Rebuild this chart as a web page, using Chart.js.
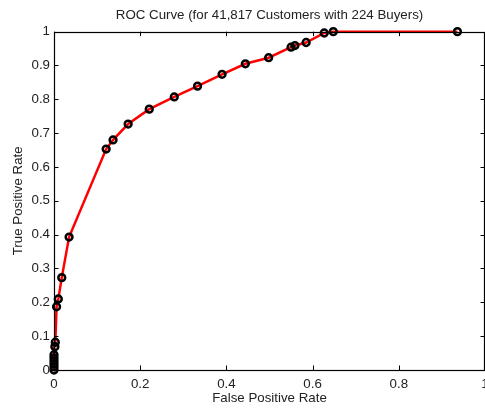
<!DOCTYPE html>
<html>
<head>
<meta charset="utf-8">
<script src="https://cdn.jsdelivr.net/npm/chart.js@4.4.0/dist/chart.umd.min.js"></script>
<style>
  body { margin: 0; background: #fff; }
  #wrap { width: 485px; height: 409px; }
</style>
</head>
<body>
<div id="wrap"><canvas id="chart" width="485" height="409"></canvas></div>
<script>
// ROC points
const fpr = [0, 0, 0, 0, 0, 0, 0.002, 0.003, 0.006, 0.010, 0.018, 0.035, 0.121, 0.137, 0.172,
             0.221, 0.279, 0.333, 0.390, 0.444, 0.498, 0.550, 0.559, 0.585, 0.627, 0.648, 0.936];
const tpr = [0, 0.009, 0.018, 0.027, 0.036, 0.045, 0.069, 0.082, 0.187, 0.210, 0.273, 0.393, 0.653, 0.680, 0.727,
             0.771, 0.807, 0.839, 0.874, 0.905, 0.923, 0.954, 0.959, 0.968, 0.996, 1.0, 1.0];

const xTicks = [0, 0.2, 0.4, 0.6, 0.8, 1];
const yTicks = [0, 0.1, 0.2, 0.3, 0.4, 0.5, 0.6, 0.7, 0.8, 0.9, 1];

const font = "'Liberation Sans', Arial, Helvetica, sans-serif";
const fs = 13.3;

// matlab style box with inward ticks
const boxTicks = {
    id: 'boxTicks',
    afterDraw(c) {
        const ctx = c.ctx;
        const a = c.chartArea;
        const xs = c.scales.x, ys = c.scales.y;
        const len = 4.5;
        ctx.save();
        ctx.strokeStyle = '#000';
        ctx.lineWidth = 1;
        ctx.beginPath();
        xTicks.forEach(v => {
            const px = Math.round(xs.getPixelForValue(v)) + 0.5;
            ctx.moveTo(px, a.bottom); ctx.lineTo(px, a.bottom - len);
            ctx.moveTo(px, a.top); ctx.lineTo(px, a.top + len);
        });
        yTicks.forEach(v => {
            const py = Math.round(ys.getPixelForValue(v)) + 0.5;
            ctx.moveTo(a.left, py); ctx.lineTo(a.left + len, py);
            ctx.moveTo(a.right, py); ctx.lineTo(a.right - len, py);
        });
        ctx.stroke();
        ctx.lineWidth = 1.2;
        ctx.strokeRect(Math.round(a.left) + 0.5, Math.round(a.top) + 0.5,
                       Math.round(a.right - a.left) - 1, Math.round(a.bottom - a.top));
        ctx.restore();
    }
};

const pts = fpr.map((x, i) => ({ x: x, y: tpr[i] }));

new Chart(document.getElementById('chart').getContext('2d'), {
    type: 'line',
    data: {
        datasets: [{
            data: pts,
            borderColor: '#ff0000',
            borderWidth: 2.5,
            tension: 0,
            fill: false,
            clip: false,
            pointRadius: 3.4,
            pointBorderWidth: 2.5,
            pointBorderColor: '#000',
            pointBackgroundColor: 'rgba(0,0,0,0)'
        }]
    },
    options: {
        responsive: false,
        animation: false,
        layout: { autoPadding: false, padding: { top: 0, right: 0, left: 0, bottom: 0 } },
        plugins: {
            legend: { display: false },
            tooltip: { enabled: false },
            title: {
                display: true,
                fullSize: false,
                text: 'ROC Curve (for 41,817 Customers with 224 Buyers)',
                color: '#222',
                font: { family: font, size: fs, weight: 'normal' },
                padding: { top: 7, bottom: 8.7 }
            }
        },
        scales: {
            x: {
                type: 'linear',
                min: 0, max: 1,
                afterBuildTicks: s => { s.ticks = xTicks.map(v => ({ value: v })); },
                afterFit: s => { s.height = 39; s.paddingRight = 0; s.paddingLeft = 0; },
                grid: { display: false, drawTicks: false },
                border: { display: false },
                ticks: { color: '#222', padding: 6, maxRotation: 0, autoSkip: false,
                         font: { family: font, size: fs }, callback: v => String(v) },
                title: { display: true, text: 'False Positive Rate', color: '#222',
                         font: { family: font, size: fs }, padding: { top: 0, bottom: 2.7 } }
            },
            y: {
                type: 'linear',
                min: 0, max: 1,
                afterBuildTicks: s => { s.ticks = yTicks.map(v => ({ value: v })); },
                afterFit: s => { s.width = 54; s.paddingTop = 0; s.paddingBottom = 0; },
                grid: { display: false, drawTicks: false },
                border: { display: false },
                ticks: { color: '#222', padding: 4, autoSkip: false,
                         font: { family: font, size: fs }, callback: v => String(v) },
                title: { display: true, text: 'True Positive Rate', color: '#222',
                         font: { family: font, size: fs }, padding: { top: 10, bottom: 0 } }
            }
        }
    },
    plugins: [boxTicks]
});
</script>
</body>
</html>
